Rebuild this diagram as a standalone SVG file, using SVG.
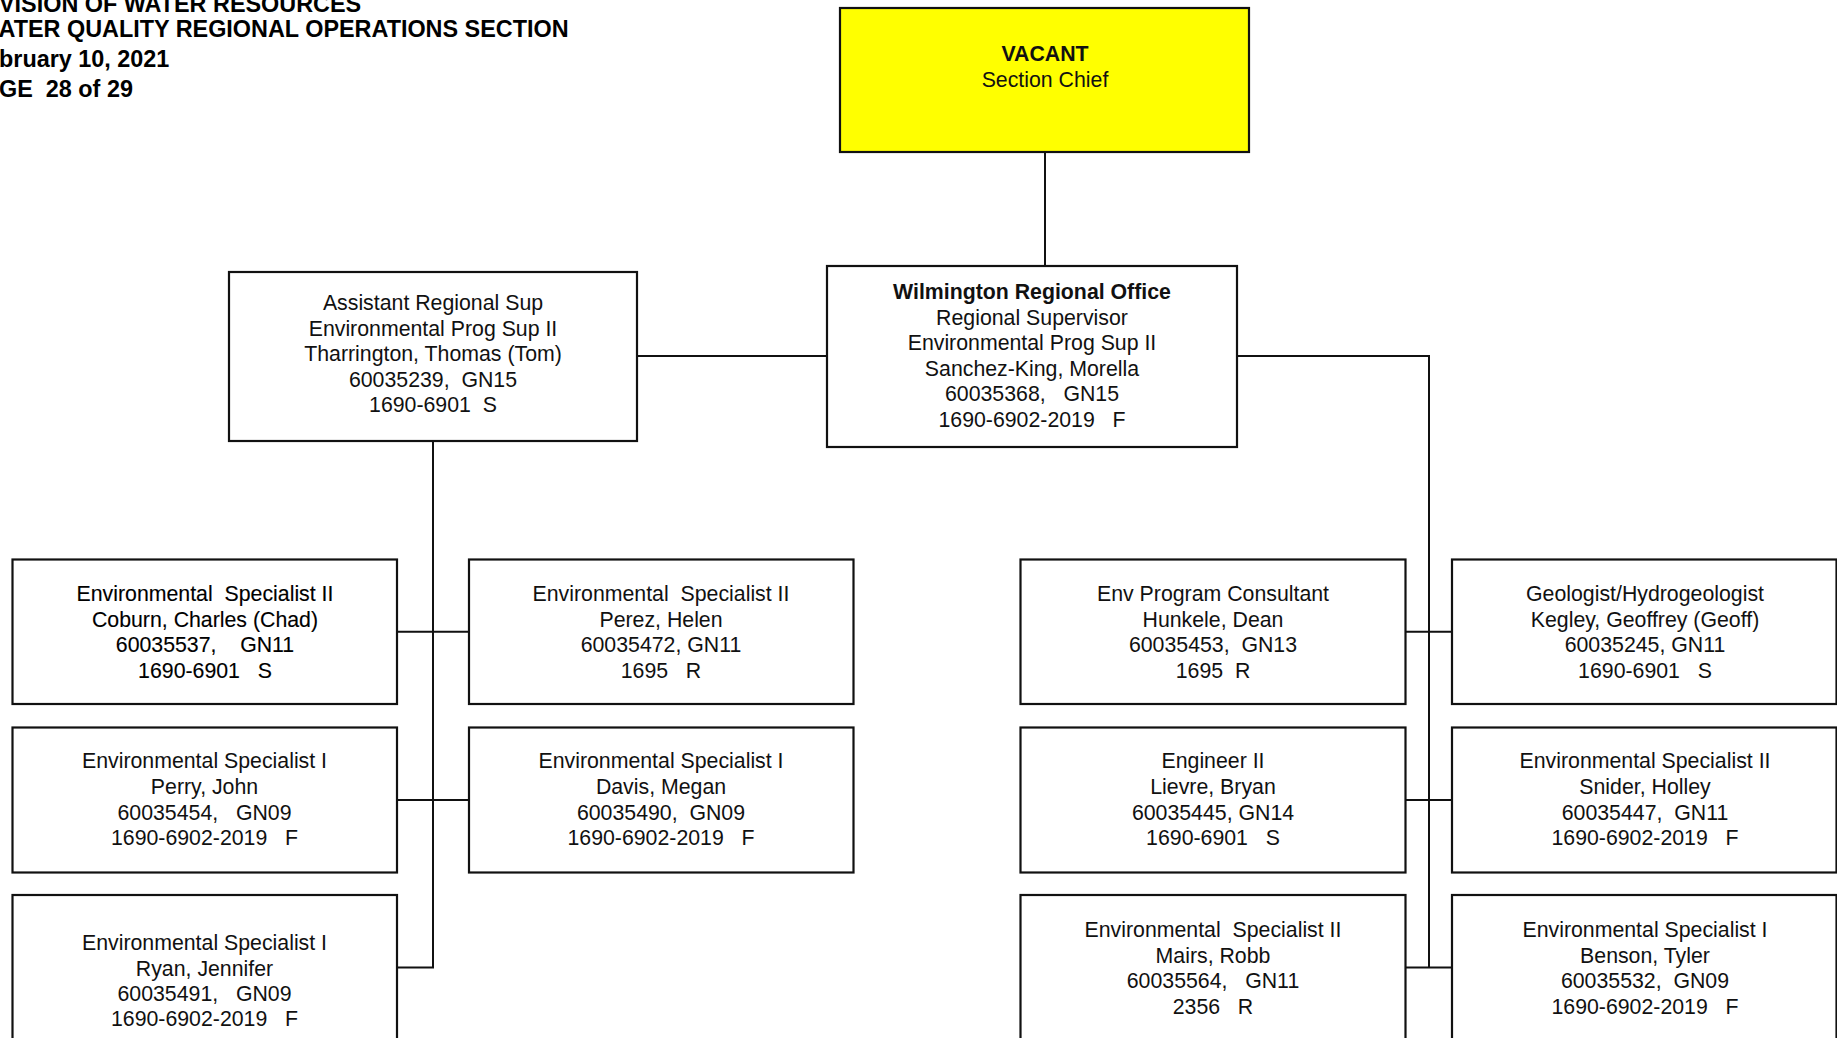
<svg xmlns="http://www.w3.org/2000/svg" width="1837" height="1038" viewBox="0 0 1837 1038">
<style>
text{font-family:"Liberation Sans",Arial,sans-serif;font-size:21.3px;fill:#111;text-anchor:middle;white-space:pre}
.hdr{font-size:23.4px;font-weight:bold;text-anchor:start;fill:#000}
.b{font-weight:bold}
.dk{fill:#000;stroke:#000;stroke-width:0.12}
.box{fill:#fff;stroke:#111;stroke-width:2.2}
.vac{fill:#ffff00;stroke:#111;stroke-width:2.2}
.con{fill:none;stroke:#111;stroke-width:2}
</style>
<rect width="1837" height="1038" fill="#fff"/>
<g id="header">
<text class="hdr" x="-1" y="11.5">VISION OF WATER RESOURCES</text>
<text class="hdr" x="-1.5" y="37.3">ATER QUALITY REGIONAL OPERATIONS SECTION</text>
<text class="hdr" x="-1" y="67.3">bruary 10, 2021</text>
<text class="hdr" x="-1" y="97">GE  28 of 29</text>
</g>
<g id="connectors">
<path class="con" d="M1045 152V266"/>
<path class="con" d="M637 356H827"/>
<path class="con" d="M1237 356H1429V967.5"/>
<path class="con" d="M433 441V967.5H397"/>
<path class="con" d="M397 631.7H469M397 800H469"/>
<path class="con" d="M1405.5 631.7H1452M1405.5 800H1452M1405.5 967.5H1452"/>
</g>
<g id="vacant">
<rect class="vac" x="840" y="8" width="409" height="144"/>
<text x="1045" y="60.7" class="b">VACANT</text>
<text x="1045" y="86.5">Section Chief</text>
</g>
<g id="wilmington">
<rect class="box" x="827" y="266" width="410" height="181"/>
<text x="1032"><tspan x="1032" y="299" class="b">Wilmington Regional Office</tspan><tspan x="1032" y="324.6">Regional Supervisor</tspan><tspan x="1032" y="350.2">Environmental Prog Sup II</tspan><tspan x="1032" y="375.8">Sanchez-King, Morella</tspan><tspan x="1032" y="401.4">60035368,   GN15</tspan><tspan x="1032" y="427">1690-6902-2019   F</tspan></text>
</g>
<g id="assistant">
<rect class="box" x="229" y="272" width="408" height="169"/>
<text><tspan x="433" y="310">Assistant Regional Sup</tspan><tspan x="433" y="335.6">Environmental Prog Sup II</tspan><tspan x="433" y="361.2">Tharrington, Thomas (Tom)</tspan><tspan x="433" y="386.8">60035239,  GN15</tspan><tspan x="433" y="412.4">1690-6901  S</tspan></text>
</g>
<g id="coburn">
<rect class="box" x="12.5" y="559.5" width="384.5" height="144.5"/>
<text class="dk"><tspan x="205" y="601">Environmental  Specialist II</tspan><tspan x="205" y="626.6">Coburn, Charles (Chad)</tspan><tspan x="205" y="652.2">60035537,    GN11</tspan><tspan x="205" y="677.8">1690-6901   S</tspan></text>
</g>
<g id="perez">
<rect class="box" x="469" y="559.5" width="384.5" height="144.5"/>
<text><tspan x="661" y="601">Environmental  Specialist II</tspan><tspan x="661" y="626.6">Perez, Helen</tspan><tspan x="661" y="652.2">60035472, GN11</tspan><tspan x="661" y="677.8">1695   R</tspan></text>
</g>
<g id="perry">
<rect class="box" x="12.5" y="727.5" width="384.5" height="145"/>
<text><tspan x="204.5" y="768.3">Environmental Specialist I</tspan><tspan x="204.5" y="793.9">Perry, John</tspan><tspan x="204.5" y="819.5">60035454,   GN09</tspan><tspan x="204.5" y="845.1">1690-6902-2019   F</tspan></text>
</g>
<g id="davis">
<rect class="box" x="469" y="727.5" width="384.5" height="145"/>
<text><tspan x="661" y="768.3">Environmental Specialist I</tspan><tspan x="661" y="793.9">Davis, Megan</tspan><tspan x="661" y="819.5">60035490,  GN09</tspan><tspan x="661" y="845.1">1690-6902-2019   F</tspan></text>
</g>
<g id="ryan">
<rect class="box" x="12.5" y="895" width="384.5" height="165"/>
<text><tspan x="204.5" y="950.4">Environmental Specialist I</tspan><tspan x="204.5" y="975.6">Ryan, Jennifer</tspan><tspan x="204.5" y="1000.8">60035491,   GN09</tspan><tspan x="204.5" y="1026">1690-6902-2019   F</tspan></text>
</g>
<g id="hunkele">
<rect class="box" x="1020.5" y="559.5" width="385" height="144.5"/>
<text><tspan x="1213" y="601">Env Program Consultant</tspan><tspan x="1213" y="626.6">Hunkele, Dean</tspan><tspan x="1213" y="652.2">60035453,  GN13</tspan><tspan x="1213" y="677.8">1695  R</tspan></text>
</g>
<g id="kegley">
<rect class="box" x="1452" y="559.5" width="384.5" height="144.5"/>
<text><tspan x="1645" y="601">Geologist/Hydrogeologist</tspan><tspan x="1645" y="626.6">Kegley, Geoffrey (Geoff)</tspan><tspan x="1645" y="652.2">60035245, GN11</tspan><tspan x="1645" y="677.8">1690-6901   S</tspan></text>
</g>
<g id="lievre">
<rect class="box" x="1020.5" y="727.5" width="385" height="145"/>
<text><tspan x="1213" y="768.3">Engineer II</tspan><tspan x="1213" y="793.9">Lievre, Bryan</tspan><tspan x="1213" y="819.5">60035445, GN14</tspan><tspan x="1213" y="845.1">1690-6901   S</tspan></text>
</g>
<g id="snider">
<rect class="box" x="1452" y="727.5" width="384.5" height="145"/>
<text><tspan x="1645" y="768.3">Environmental Specialist II</tspan><tspan x="1645" y="793.9">Snider, Holley</tspan><tspan x="1645" y="819.5">60035447,  GN11</tspan><tspan x="1645" y="845.1">1690-6902-2019   F</tspan></text>
</g>
<g id="mairs">
<rect class="box" x="1020.5" y="895" width="385" height="165"/>
<text><tspan x="1213" y="937">Environmental  Specialist II</tspan><tspan x="1213" y="962.6">Mairs, Robb</tspan><tspan x="1213" y="988.2">60035564,   GN11</tspan><tspan x="1213" y="1013.8">2356   R</tspan></text>
</g>
<g id="benson">
<rect class="box" x="1452" y="895" width="384.5" height="165"/>
<text><tspan x="1645" y="937">Environmental Specialist I</tspan><tspan x="1645" y="962.6">Benson, Tyler</tspan><tspan x="1645" y="988.2">60035532,  GN09</tspan><tspan x="1645" y="1013.8">1690-6902-2019   F</tspan></text>
</g>
</svg>
